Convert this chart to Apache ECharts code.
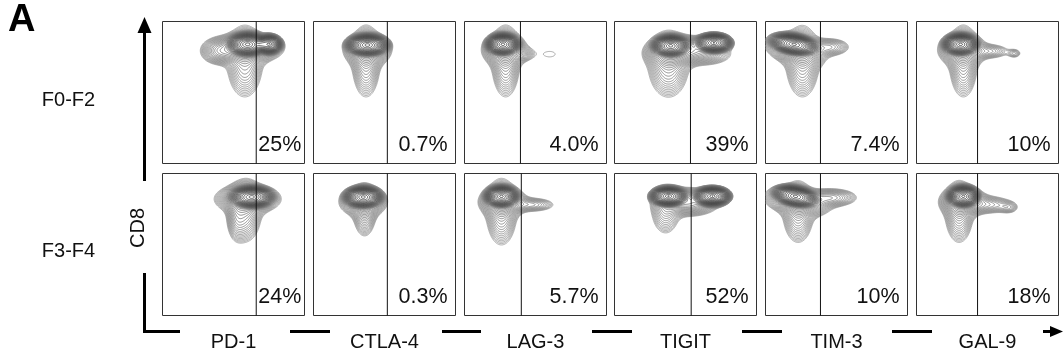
<!DOCTYPE html>
<html>
<head>
<meta charset="utf-8">
<title>Checkpoint receptor expression on CD8 T cells</title>
<script src="https://cdn.jsdelivr.net/npm/echarts@6/dist/echarts.min.js"></script>
<style>
  html, body { margin: 0; padding: 0; background: #fff; }
  #chart { width: 1063px; height: 360px; }
</style>
</head>
<body>
<div id="chart"></div>
<script>
// ---- data -------------------------------------------------------------
const markers = ['PD-1', 'CTLA-4', 'LAG-3', 'TIGIT', 'TIM-3', 'GAL-9'];
const stages = ['F0-F2', 'F3-F4'];

// % of CD8 cells right of the gate
const positiveF02 = [25, 0.7, 4.0, 39, 7.4, 10];
const positiveF34 = [24, 0.3, 5.7, 52, 10, 18];

// gate position on each marker axis (0-100 display scale)
const gateF02 = [66, 52, 39.4, 53.5, 38.7, 43];
const gateF34 = [66, 52, 40, 54, 38.7, 43];

// density components per panel:
// [centreX, centreY, spreadX, spreadY, weight, correlation, profile]
// profile 1 = gaussian shoulder, 2 = dense cell cluster (sharp peak, steep rim)
const densityF02 = [
  [[60, 84, 12, 7, 1, 0, 2], [75, 84, 8, 6, 0.8, 0, 2], [60, 81, 12, 5, 0.1], [40, 79, 7, 5, 0.05], [58, 72, 7, 14, 0.05]],
  [[38, 83.5, 12.7, 6.5, 1, 0, 2], [38, 80, 8, 5.5, 0.1], [37, 72, 5.5, 14, 0.05]],
  [[27, 84, 10, 6.5, 1, 0, 2], [28, 80, 7.5, 5.5, 0.1], [29, 72, 5.5, 14, 0.05], [41, 77, 5, 3, 0.022], [60, 77, 8, 4, 0.0112]],
  [[39.5, 83, 11, 6.5, 1, 0, 2], [70, 85, 11, 6, 0.9, 0, 2], [40, 78, 9, 5, 0.1], [55, 82, 10, 4, 0.06], [38, 70, 8, 13, 0.05], [63, 77, 11, 4.5, 0.04]],
  [[20, 84, 14, 6.5, 1, -0.3, 2], [21, 80, 10, 5.5, 0.1, -0.3], [45, 82, 8, 3.5, 0.04], [26, 72, 6.5, 14, 0.05]],
  [[31, 84, 10.5, 6.5, 1, 0, 2], [32, 80, 8, 5.5, 0.1], [52, 79, 8, 3, 0.03], [69, 77.5, 3, 2, 0.02], [33, 72, 5.5, 14, 0.05]]
];
const densityF34 = [
  [[63, 83.5, 13, 6.5, 1, 0, 2], [60, 82, 11, 5, 0.1], [59, 74, 6, 12, 0.05], [52, 70, 4, 10, 0.03]],
  [[35, 83.5, 11.5, 6.5, 1, 0, 2], [35, 80, 8, 5, 0.1], [36, 74, 4.5, 10, 0.05]],
  [[26, 84, 10, 6.5, 1, 0, 2], [27, 80, 8, 5, 0.1], [48, 78, 9, 2.8, 0.035], [26, 73, 6, 13, 0.05]],
  [[38, 84, 11, 6, 1, 0, 2], [69, 84, 11, 6, 1, 0, 2], [52, 80, 11, 5, 0.08], [36, 74, 6, 10, 0.035]],
  [[21, 84, 13, 6.5, 1, -0.3, 2], [22, 80, 11, 5, 0.1, -0.3], [46, 83, 10, 3.5, 0.05], [23, 73, 6, 12, 0.05]],
  [[33, 84, 9.5, 6.5, 1, 0, 2], [33, 80, 8, 5, 0.1], [52, 78, 9, 3.5, 0.035], [65, 76, 4, 2.5, 0.02], [30, 73, 5.5, 12, 0.05]]
];

// ---- contour computation (marching squares on the density surface) ----
const FONT = "'Liberation Sans', Arial, Helvetica, sans-serif";
const LEVEL_MIN = 0.01, LEVEL_RATIO = 0.88, STEP = 0.5;

function density(comps, x, y) {
  let s = 0;
  for (const c of comps) {
    const rho = c[5] || 0, profile = c[6] || 1;
    const dx = (x - c[0]) / c[2], dy = (y - c[1]) / c[3];
    const q = (dx * dx + dy * dy - 2 * rho * dx * dy) / (1 - rho * rho);
    if (profile === 2) {
      const r = Math.sqrt(q);
      s += c[4] * Math.exp(-0.9 * r - 1.2 * q * q);
    } else {
      s += c[4] * Math.exp(-0.5 * q);
    }
  }
  return s;
}

const CASES = {
  1: [[3, 0]], 2: [[0, 1]], 3: [[3, 1]], 4: [[1, 2]], 6: [[0, 2]], 7: [[3, 2]],
  8: [[2, 3]], 9: [[0, 2]], 11: [[1, 2]], 12: [[1, 3]], 13: [[0, 1]], 14: [[0, 3]]
};

function contours(comps) {
  const n = Math.round(100 / STEP);
  const v = [];
  let vmax = 0;
  for (let j = 0; j <= n; j++) {
    const row = new Float64Array(n + 1);
    for (let i = 0; i <= n; i++) {
      row[i] = density(comps, i * STEP, j * STEP);
      if (row[i] > vmax) vmax = row[i];
    }
    v.push(row);
  }
  const levels = [];
  for (let L = LEVEL_MIN; L < vmax; L /= LEVEL_RATIO) levels.push(L);
  return levels.map(L => {
    const segs = [];
    for (let j = 0; j < n; j++) {
      const r0 = v[j], r1 = v[j + 1];
      for (let i = 0; i < n; i++) {
        const a = r0[i], b = r0[i + 1], c = r1[i + 1], d = r1[i];
        const idx = (a > L ? 1 : 0) | (b > L ? 2 : 0) | (c > L ? 4 : 0) | (d > L ? 8 : 0);
        if (idx === 0 || idx === 15) continue;
        const x0 = i * STEP, y0 = j * STEP;
        const pt = e => {
          if (e === 0) return [x0 + STEP * (L - a) / (b - a), y0];
          if (e === 1) return [x0 + STEP, y0 + STEP * (L - b) / (c - b)];
          if (e === 2) return [x0 + STEP * (L - d) / (c - d), y0 + STEP];
          return [x0, y0 + STEP * (L - a) / (d - a)];
        };
        let pairs = CASES[idx];
        if (idx === 5 || idx === 10) {
          const centre = (a + b + c + d) / 4 > L;
          if (idx === 5) pairs = centre ? [[0, 1], [2, 3]] : [[3, 0], [1, 2]];
          else pairs = centre ? [[3, 0], [1, 2]] : [[0, 1], [2, 3]];
        }
        for (const p of pairs) segs.push([pt(p[0]), pt(p[1])]);
      }
    }
    return segs;
  });
}

function formatPct(v) {
  return (v >= 10 ? v.toFixed(0) : v.toFixed(1)) + '%';
}

const measureCtx = document.createElement('canvas').getContext('2d');
function textWidth(text, size) {
  measureCtx.font = size + 'px ' + FONT;
  return measureCtx.measureText(text).width;
}

// ---- layout -------------------------------------------------------------
const PANEL = 142;
const panelLeft = [162, 313, 464, 614, 765, 916];
const panelTop = [21, 173];
const PCT_SIZE = 21.5;

const grids = [], xAxes = [], yAxes = [], series = [];
const rowsPositive = [positiveF02, positiveF34];
const rowsGate = [gateF02, gateF34];
const rowsDensity = [densityF02, densityF34];

for (let r = 0; r < 2; r++) {
  for (let c = 0; c < 6; c++) {
    const k = r * 6 + c;
    grids.push({
      left: panelLeft[c] + 0.5, top: panelTop[r] + 0.5, width: PANEL, height: PANEL,
      show: true, borderColor: '#333', borderWidth: 1, backgroundColor: 'transparent'
    });
    xAxes.push({
      gridIndex: k, type: 'value', min: 0, max: 100,
      show: r === 1,
      name: r === 1 ? markers[c] : '',
      nameLocation: 'middle', nameGap: 17,
      nameTextStyle: { fontSize: 20, color: '#111', fontFamily: FONT },
      axisLine: { show: false }, axisTick: { show: false },
      axisLabel: { show: false }, splitLine: { show: false }
    });
    yAxes.push({
      gridIndex: k, type: 'value', min: 0, max: 100, show: false,
      splitLine: { show: false }
    });

    const levelSegs = contours(rowsDensity[r][c]);
    const nLev = levelSegs.length;
    series.push({
      type: 'custom', xAxisIndex: k, yAxisIndex: k, silent: true, clip: true,
      data: [0],
      renderItem: (params, api) => {
        const children = levelSegs.map((segs, li) => {
          let d = '';
          for (const s of segs) {
            const p = api.coord(s[0]), q = api.coord(s[1]);
            d += 'M' + p[0].toFixed(2) + ' ' + p[1].toFixed(2) + 'L' + q[0].toFixed(2) + ' ' + q[1].toFixed(2);
          }
          const t = nLev > 1 ? li / (nLev - 1) : 0;
          const g = Math.round(145 - 105 * t);
          return {
            type: 'path', shape: { pathData: d || 'M0 0' },
            style: { stroke: 'rgb(' + g + ',' + g + ',' + g + ')', fill: null, lineWidth: 0.75 }
          };
        });
        return { type: 'group', children };
      }
    });

    const gate = rowsGate[r][c];
    series.push({
      type: 'line', xAxisIndex: k, yAxisIndex: k, silent: true,
      data: [[gate, 0], [gate, 100]], symbol: 'none',
      lineStyle: { color: '#111', width: 1 }
    });

    const label = formatPct(rowsPositive[r][c]);
    series.push({
      type: 'custom', xAxisIndex: k, yAxisIndex: k, silent: true,
      data: [[gate, rowsPositive[r][c]]],
      renderItem: (params, api) => {
        const corner = api.coord([100, 0]);
        const gx = api.coord([api.value(0), 0])[0];
        const w = textWidth(label, PCT_SIZE);
        let x = corner[0] - 8, align = 'right';
        if (x - w < gx + 2) { x = gx + 2; align = 'left'; }
        return {
          type: 'text', x: x, y: corner[1] - 18,
          style: {
            text: label, fill: '#111', fontSize: PCT_SIZE, fontFamily: FONT,
            align: align, verticalAlign: 'middle',
            textAlign: align, textVerticalAlign: 'middle'
          }
        };
      }
    });
  }
}

// ---- axes frame, arrows and row titles ---------------------------------
const ink = { stroke: '#000', lineWidth: 3 };
const dashes = [[290, 330], [442, 481], [592, 632], [742, 782], [892, 932], [1043, 1052]];
const graphics = [
  { type: 'text', x: 8, y: 21, style: { text: 'A', fill: '#000', fontSize: 38, fontWeight: 'bold', fontFamily: FONT, align: 'left', verticalAlign: 'middle', textAlign: 'left', textVerticalAlign: 'middle' } },
  { type: 'text', x: 68.5, y: 100.5, style: { text: stages[0], fill: '#111', fontSize: 20, fontFamily: FONT, align: 'center', verticalAlign: 'middle', textAlign: 'center', textVerticalAlign: 'middle' } },
  { type: 'text', x: 68.5, y: 251.5, style: { text: stages[1], fill: '#111', fontSize: 20, fontFamily: FONT, align: 'center', verticalAlign: 'middle', textAlign: 'center', textVerticalAlign: 'middle' } },
  { type: 'text', x: 138.5, y: 228, rotation: Math.PI / 2, style: { text: 'CD8', fill: '#111', fontSize: 20, fontFamily: FONT, align: 'center', verticalAlign: 'middle', textAlign: 'center', textVerticalAlign: 'middle' } },
  { type: 'line', shape: { x1: 144.5, y1: 31, x2: 144.5, y2: 181 }, style: ink },
  { type: 'polygon', shape: { points: [[137.5, 33], [151.5, 33], [144.5, 17]] }, style: { fill: '#000' } },
  { type: 'line', shape: { x1: 144.5, y1: 273, x2: 144.5, y2: 333 }, style: ink },
  { type: 'line', shape: { x1: 143, y1: 331.5, x2: 180, y2: 331.5 }, style: ink },
  { type: 'polygon', shape: { points: [[1050, 326], [1050, 337], [1063, 331.5]] }, style: { fill: '#000' } }
];
dashes.forEach(d => graphics.push({ type: 'line', shape: { x1: d[0], y1: 331.5, x2: d[1], y2: 331.5 }, style: ink }));

const chart = echarts.init(document.getElementById('chart'), null, { renderer: 'canvas' });
chart.setOption({
  animation: false,
  backgroundColor: '#fff',
  grid: grids,
  xAxis: xAxes,
  yAxis: yAxes,
  series: series,
  graphic: graphics
});
</script>
</body>
</html>
